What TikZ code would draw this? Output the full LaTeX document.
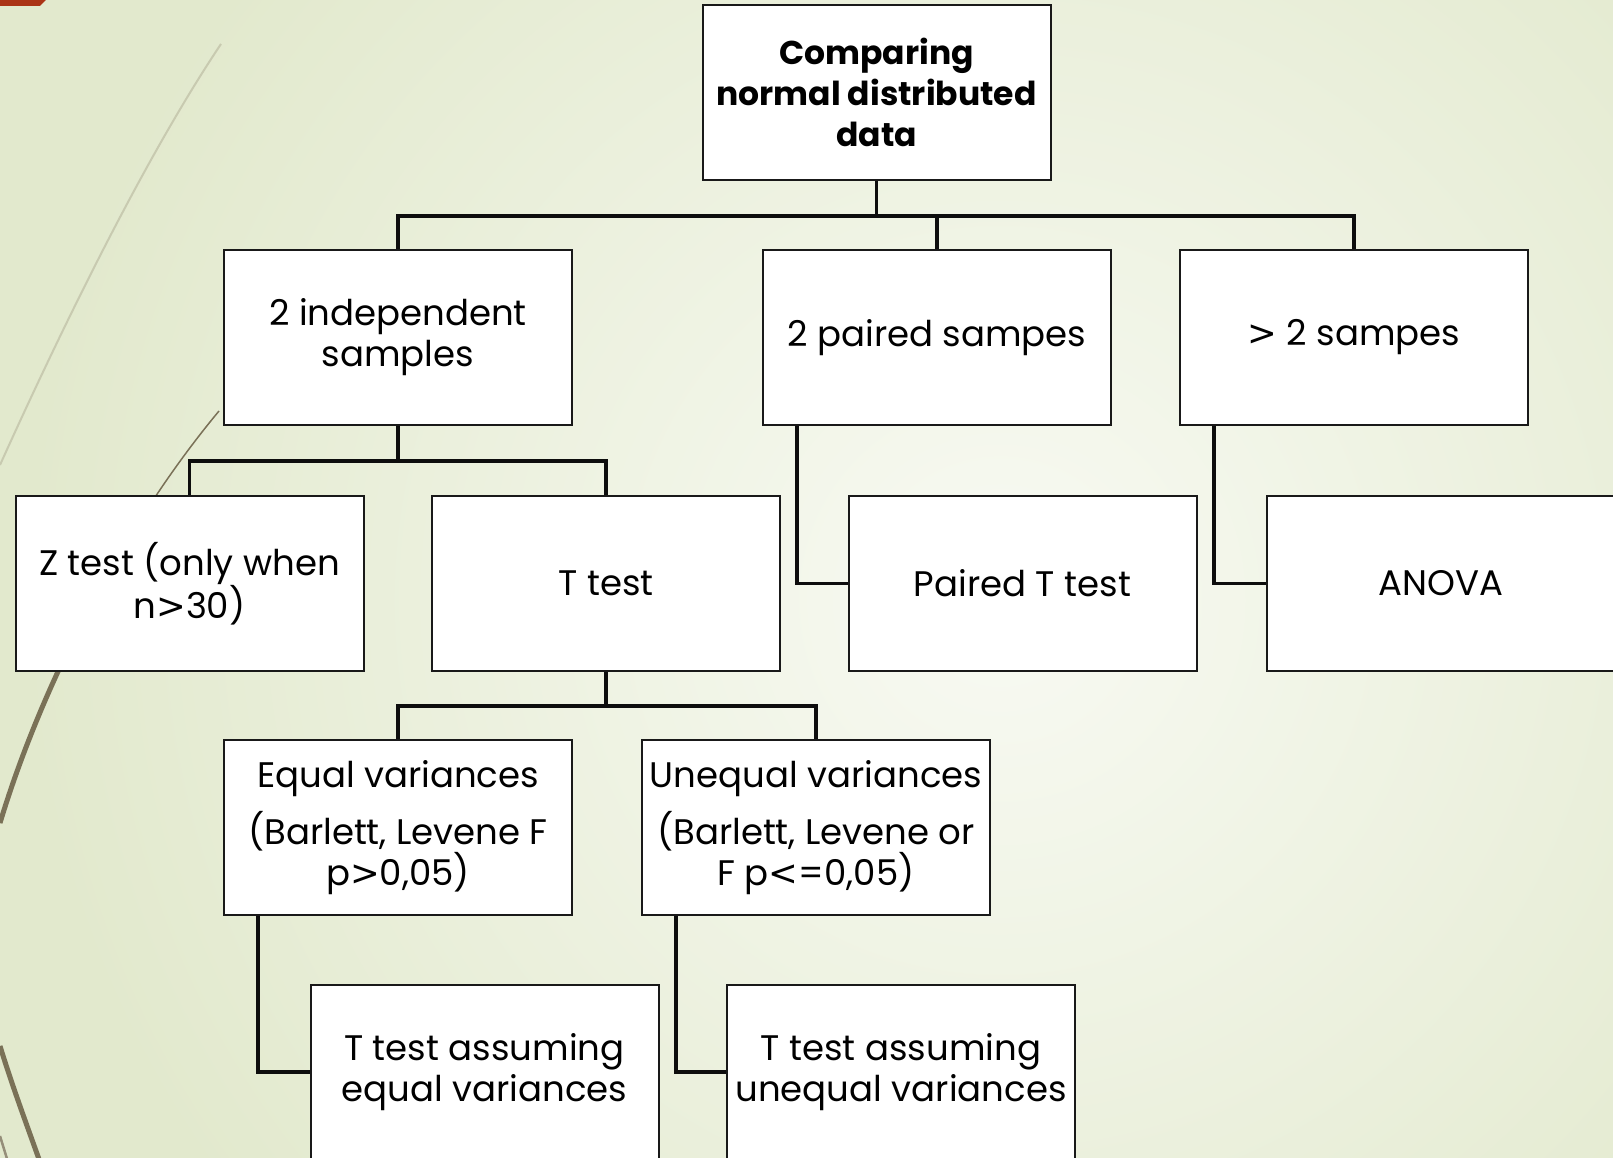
\documentclass[tikz,border=0pt]{standalone}
\usepackage{fontspec}
\setmainfont{Poppins}
\newfontfamily\symfont{DejaVu Sans}
\newcommand{\gt}{{\symfont >}}
\newcommand{\lt}{{\symfont <}}
\definecolor{bgout}{HTML}{E2E9CD}
\definecolor{bgin}{HTML}{F8FAF3}
\definecolor{wispthin}{HTML}{C8CAB0}
\definecolor{wispdark}{HTML}{7A7157}
\definecolor{wispred}{HTML}{AA3415}
\tikzset{
  box/.style={draw=black!90, line width=2pt, fill=white, minimum width=348pt,
    minimum height=175pt, inner sep=0pt, align=center,
    font=\fontsize{35.5}{41}\selectfont},
  rootbox/.style={box, font=\fontsize{33}{41}\selectfont\bfseries},
  link/.style={line width=3.5pt, line join=miter, draw=black!95}
}

\begin{document}
\begin{tikzpicture}[x=1pt, y=-1pt]
  \useasboundingbox (0,0) rectangle (1613,1158);
  % background
  \fill[bgout] (0,0) rectangle (1613,1158);
  \begin{scope}
    \clip (0,0) rectangle (1613,1158);
    \shade[inner color=bgin, outer color=bgout] (1000,600) circle (980);
  \end{scope}
  % wisps on the left
  \draw[wispthin, line width=2pt] (221,44) .. controls (150,150) and (70,310) .. (0,465);
  \draw[wispdark, line width=1.5pt] (219,411) .. controls (120,530) and (40,690) .. (0,823);
  \begin{scope}
    \clip (0,600) rectangle (200,900);
    \draw[wispdark, line width=5pt] (219,411) .. controls (120,530) and (40,690) .. (0,823);
  \end{scope}
  \draw[wispdark, line width=5pt] (0,1046) .. controls (12,1085) and (25,1120) .. (40,1162);
  \draw[wispdark!80, line width=2.5pt] (0,1136) -- (8,1162);
  \fill[wispred] (0,0) -- (46,0) -- (40,6) -- (0,6) -- cycle;

  % boxes
  \node[rootbox] (root) at (876.5,92.5) {Comparing\\normal distributed\\data};
  \node[box] (indep) at (398,337.5) {2 independent\\samples};
  \node[box] (paired) at (937,337.5) {2 paired sampes};
  \node[box] (more) at (1354,337.5) {\gt{} 2 sampes};
  \node[box] (ztest) at (189.5,583.5) {Z test (only when\\n\gt30)};
  \node[box] (ttest) at (606,583.5) {T test};
  \node[box] (pairedt) at (1022.5,583.5) {Paired T test};
  \node[box] (anova) at (1441,583.5) {ANOVA};
  \node[box] (eqvar) at (398,827.5) {Equal variances\\[14pt](Barlett, Levene F\\p\gt0,05)};
  \node[box] (uneqvar) at (816,827.5) {Unequal variances\\[14pt](Barlett, Levene or\\F p\lt=0,05)};
  \node[box] (teq) at (484.5,1072) {T test assuming\\equal variances};
  \node[box] (tuneq) at (901,1072) {T test assuming\\unequal variances};

  % connectors
  \coordinate (bus1) at (876.5,216);
  \coordinate (bus2) at (398,461);
  \coordinate (bus3) at (606,706);
  \draw[link] (root.south) -- (bus1);
  \draw[link] (bus1) -| (indep.north);
  \draw[link] (bus1) -| (paired.north);
  \draw[link] (bus1) -| (more.north);
  \draw[link] (indep.south) -- (bus2);
  \draw[link] (bus2) -| (ztest.north);
  \draw[link] (bus2) -| (ttest.north);
  \draw[link] ([xshift=34.8]paired.south west) |- (pairedt.west);
  \draw[link] ([xshift=34.8]more.south west) |- (anova.west);
  \draw[link] (ttest.south) -- (bus3);
  \draw[link] (bus3) -| (eqvar.north);
  \draw[link] (bus3) -| (uneqvar.north);
  \draw[link] ([xshift=34.8]eqvar.south west) |- (teq.west);
  \draw[link] ([xshift=34.8]uneqvar.south west) |- (tuneq.west);
\end{tikzpicture}
\end{document}
